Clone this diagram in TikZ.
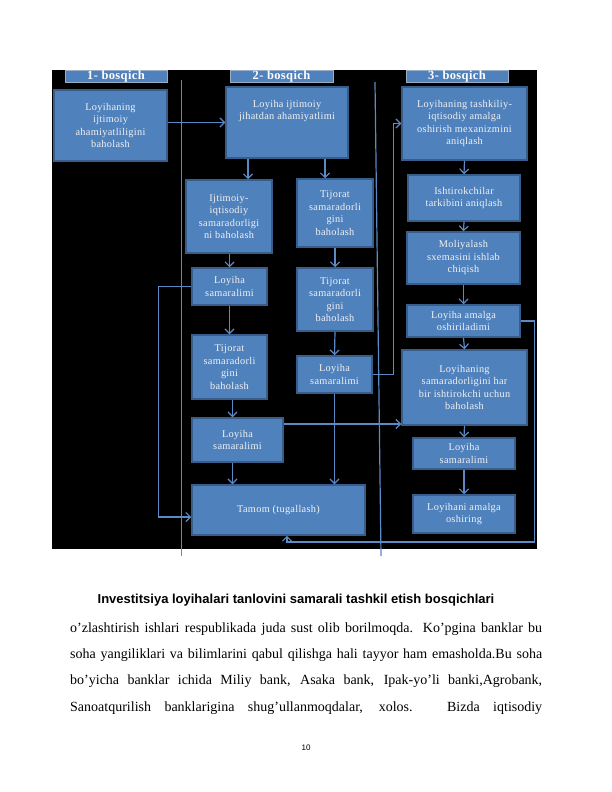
\documentclass[tikz,border=0pt]{standalone}
\usepackage{fontspec}
\setmainfont{Liberation Serif}
\newfontfamily\boxfont[LetterSpace=3]{Liberation Serif}
\newfontfamily\capfont{Liberation Sans}
\usetikzlibrary{arrows.meta}
\definecolor{boxblue}{HTML}{4F81BD}
\definecolor{boxedge}{HTML}{385D8A}
\definecolor{linkblue}{HTML}{5B8AC6}
\definecolor{txtw}{HTML}{F2F2F2}
\tikzset{
  blk/.style={draw=boxedge, line width=1.5pt, fill=boxblue, text=txtw,
    font=\boxfont\fontsize{10.3}{12.5}\selectfont, align=center, inner sep=2pt},
  hdr/.style={draw=boxedge!50!white, line width=0.8pt, fill=boxblue, text=white,
    font=\boxfont\bfseries\fontsize{12.5}{12.5}\selectfont, inner sep=0pt},
  link/.style={draw=linkblue, line width=1.2pt},
  arr/.style={link, -{Straight Barb[length=4.5pt,width=9pt]}},
  bodyline/.style={anchor=base west, inner sep=0pt, font=\fontsize{14}{16}\selectfont},
}
\begin{document}
\begin{tikzpicture}[x=1pt,y=-1pt]
\useasboundingbox (0,0) rectangle (612,792);
\fill[white] (0,0) rectangle (612,792);
\fill[black] (52,70) rectangle (537,549);

% headers
\node[hdr, minimum width=102pt, minimum height=12pt] (h1) at (116,76) {1- bosqich};
\node[hdr, minimum width=103pt, minimum height=12pt] (h2) at (281.5,76) {2- bosqich};
\node[hdr, minimum width=102pt, minimum height=12pt] (h3) at (457,76) {3- bosqich};

% dividers
\draw[link] (181.5,80) -- (181.5,556);
\draw[link] (375,82) -- (381,556);

% column 1
\node[blk, minimum width=113pt, minimum height=71pt] (b1) at (110.5,125.5) {Loyihaning\\ijtimoiy\\ahamiyatliligini\\baholash};

% column 2
\node[blk, minimum width=122pt, minimum height=71pt] (b2) at (287,122.5) {Loyiha ijtimoiy\\jihatdan ahamiyatlimi\\\mbox{}\\\mbox{}};
\node[blk, minimum width=86pt, minimum height=73pt] (b3) at (229,216.5) {Ijtimoiy-\\iqtisodiy\\samaradorligi\\ni baholash};
\node[blk, minimum width=76pt, minimum height=68pt] (b4) at (335,213) {Tijorat\\samaradorli\\gini\\baholash};
\node[blk, minimum width=75pt, minimum height=37pt] (b5) at (229.5,286.5) {Loyiha\\samaralimi};
\node[blk, minimum width=76pt, minimum height=63pt] (b6) at (335,299.5) {Tijorat\\samaradorli\\gini\\baholash};
\node[blk, minimum width=75pt, minimum height=64pt] (b7) at (229.5,367) {Tijorat\\samaradorli\\gini\\baholash};
\node[blk, minimum width=75pt, minimum height=37pt] (b8) at (334.5,374.5) {Loyiha\\samaralimi};
\node[blk, minimum width=91pt, minimum height=44pt] (b9) at (237.5,440) {Loyiha\\samaralimi};
\node[blk, minimum width=173pt, minimum height=50pt] (b10) at (278.5,510) {Tamom (tugallash)};

% column 3
\node[blk, minimum width=125pt, minimum height=73pt] (b11) at (464.5,123.5) {Loyihaning tashkiliy-\\iqtisodiy amalga\\oshirish mexanizmini\\aniqlash};
\node[blk, minimum width=112pt, minimum height=46pt] (b12) at (464,198) {Ishtirokchilar\\tarkibini aniqlash};
\node[blk, minimum width=113pt, minimum height=52pt] (b13) at (463.5,258) {Moliyalash\\sxemasini ishlab\\chiqish};
\node[blk, minimum width=113pt, minimum height=32pt] (b14) at (463.5,321) {Loyiha amalga\\oshiriladimi};
\node[blk, minimum width=125pt, minimum height=75pt] (b15) at (464.5,387.5) {Loyihaning\\samaradorligini har\\bir ishtirokchi uchun\\baholash};
\node[blk, minimum width=102pt, minimum height=31pt] (b16) at (464,453.5) {Loyiha\\samaralimi};
\node[blk, minimum width=102pt, minimum height=38pt] (b17) at (464,514) {Loyihani amalga\\oshiring};

% connectors
\draw[arr] (b2.west -| b1.east) -- (b2.west);
\draw[arr] ([xshift=19pt]b3.north |- b2.south) -- ([xshift=19pt]b3.north);
\draw[arr] ([xshift=-10pt]b4.north |- b2.south) -- ([xshift=-10pt]b4.north);
\draw[arr] (b3.south -| b5.north) -- (b5.north);
\draw[arr] (b5.south) -- (b7.north);
\draw[arr] ([xshift=3pt]b7.south) -- ([xshift=3pt]b7.south |- b9.north);
\draw[arr] ([xshift=-5pt]b9.south) -- ([xshift=-5pt]b9.south |- b10.north);
\draw[arr] (b4.south) -- (b6.north);
\draw[arr] (b6.south) -- (b8.north);
\draw[arr] (b8.south) -- (b8.south |- b10.north);
\draw[arr] (b5.west) -- ++(-33,0) |- ([yshift=-7pt]b10.west);
\draw[arr] ([yshift=16pt]b9.east) -- ([yshift=16pt]b9.east -| b15.west);
\draw[arr] (b8.east) -- ++(21,0) |- (b11.west);
\draw[arr] (b14.east) -- ++(14,0) -- ++(0,221) -| ([xshift=8.5pt]b10.south);
\draw[arr] (b11.south) -- (b12.north);
\draw[arr] (b12.south) -- (b13.north);
\draw[arr] (b13.south) -- (b14.north);
\draw[arr] (b14.south) -- (b15.north);
\draw[arr] (b15.south) -- (b16.north);
\draw[arr] (b16.south) -- (b17.north);

% caption and text
\node[font=\capfont\bfseries\fontsize{13}{15}\selectfont] (cap) at (296,600) {Investitsiya loyihalari tanlovini samarali tashkil etish bosqichlari};
\node[bodyline] (t1) at (70,632) {\makebox[472pt][s]{o’zlashtirish ishlari respublikada juda sust olib borilmoqda. Ko’pgina banklar bu}};
\node[bodyline] (t2) at (70,658) {\makebox[472pt][s]{soha yangiliklari va bilimlarini qabul qilishga hali tayyor ham emasholda.Bu soha}};
\node[bodyline] (t3) at (70,684) {\makebox[472pt][s]{bo’yicha banklar ichida Miliy bank, Asaka bank, Ipak-yo’li banki,Agrobank,}};
\node[bodyline] (t4) at (70,711) {\makebox[472pt][s]{Sanoatqurilish banklarigina shug’ullanmoqdalar, xolos. Bizda iqtisodiy}};
\node[font=\capfont\fontsize{8}{9}\selectfont] (pg) at (306,748) {10};
\end{tikzpicture}
\end{document}
